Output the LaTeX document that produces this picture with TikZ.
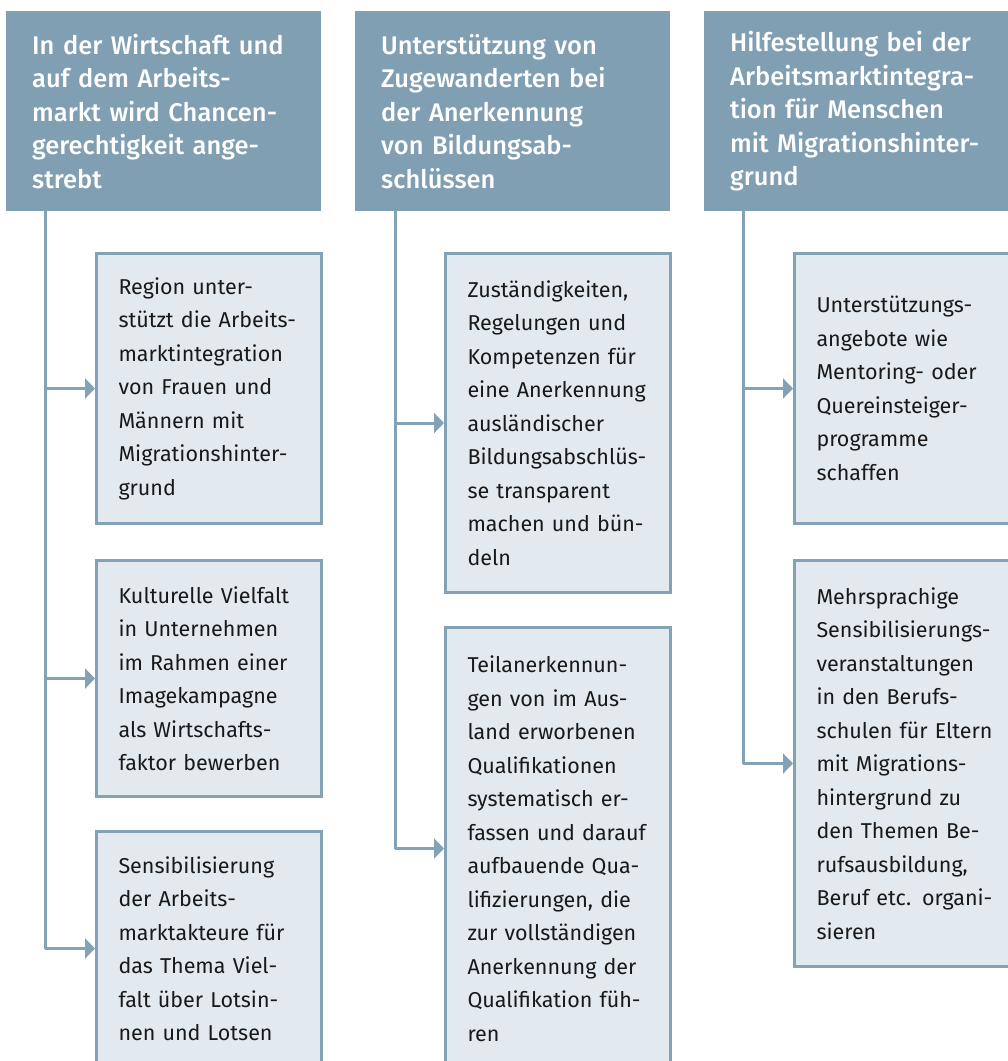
\documentclass[tikz,border=0pt]{standalone}
\usepackage{fontspec}
\setmainfont{Fira Sans}
\newfontfamily\headfont{Fira Sans Medium}
\usepackage{tikz}
\usetikzlibrary{arrows.meta}

\definecolor{headblue}{RGB}{128,159,178}
\definecolor{boxblue}{RGB}{227,234,239}
\definecolor{linkblue}{RGB}{132,162,181}

\tikzset{
  head/.style={rectangle, fill=headblue, text=white, anchor=north west,
    minimum width=315pt, minimum height=200pt, inner xsep=26pt, inner ysep=0pt,
    text width=263pt, align=left, font=\headfont\fontsize{25.5}{33.5}\selectfont},
  item/.style={rectangle, draw=linkblue, line width=3pt, fill=boxblue,
    text=black!90, anchor=north west, minimum width=225pt, inner xsep=22pt,
    text width=181pt, align=left, font=\fontsize{21.5}{33.5}\selectfont},
  link/.style={draw=linkblue, line width=3pt},
  arr/.style={link, -{Triangle[length=10pt,width=20pt]}}
}

\begin{document}
\begin{tikzpicture}[x=1pt, y=-1pt]
      \useasboundingbox (0,0) rectangle (1008,1061);
      \clip (0,0) rectangle (1008,1061);

      % headers
      \node[head] (h1) at (6,11){In der Wirtschaft und\\auf dem Arbeits-\\markt wird Chancen-\\gerechtigkeit ange-\\strebt};
      \node[head] (h2) at (355,11){Unterst\"utzung von\\Zugewanderten bei\\der Anerkennung\\von Bildungsab-\\schl\"ussen};
      \node[head] (h3) at (704,11){Hilfestellung bei der\\Arbeitsmarktintegra-\\tion f\"ur Menschen\\mit Migrationshinter-\\grund};

      % first column
      \node[item, minimum height=270pt] (b11) at (95,252){Region unter-\\st\"utzt die Arbeits-\\marktintegration\\von Frauen und\\M\"annern mit\\Migrationshinter-\\grund};
      \node[item, minimum height=236pt] (b12) at (95,559){Kulturelle Vielfalt\\in Unternehmen\\im Rahmen einer\\Imagekampagne\\als Wirtschafts-\\faktor bewerben};
      \node[item, minimum height=234pt] (b13) at (95,830){Sensibilisierung\\der Arbeits-\\marktakteure f\"ur\\das Thema Viel-\\falt \"uber Lotsin-\\nen und Lotsen};

      % second column
      \node[item, minimum height=339pt] (b21) at (444,252){Zust\"andigkeiten,\\Regelungen und\\Kompetenzen f\"ur\\eine Anerkennung\\ausl\"andischer\\Bildungsabschl\"us-\\se transparent\\machen und b\"un-\\deln};
      \node[item, minimum height=442pt] (b22) at (444,626){Teilanerkennun-\\gen von im Aus-\\land erworbenen\\Qualifikationen\\systematisch er-\\fassen und darauf\\aufbauende Qua-\\lifizierungen, die\\zur vollst\"andigen\\Anerkennung der\\Qualifikation f\"uh-\\ren};

      % third column
      \node[item, minimum height=270pt] (b31) at (793,252){Unterst\"utzungs-\\angebote wie\\Mentoring- oder\\Quereinsteiger-\\programme\\schaffen};
      \node[item, minimum height=406pt] (b32) at (793,559){Mehrsprachige\\Sensibilisierungs-\\veranstaltungen\\in den Berufs-\\schulen f\"ur Eltern\\mit Migrations-\\hintergrund zu\\den Themen Be-\\rufsausbildung,\\Beruf etc. organi-\\sieren};

      \coordinate (t1) at ([xshift=39pt]h1.south west);
      \coordinate (t2) at ([xshift=40pt]h2.south west);
      \coordinate (t3) at ([xshift=39pt]h3.south west);

      \draw[link] (t1) -- (t1 |- b13.west);
      \draw[arr] (t1 |- b11.west) -- (b11.west);
      \draw[arr] (t1 |- b12.west) -- (b12.west);
      \draw[arr] (t1 |- b13.west) -- (b13.west);

      \draw[link] (t2) -- (t2 |- b22.west);
      \draw[arr] (t2 |- b21.west) -- (b21.west);
      \draw[arr] (t2 |- b22.west) -- (b22.west);

      \draw[link] (t3) -- (t3 |- b32.west);
      \draw[arr] (t3 |- b31.west) -- (b31.west);
      \draw[arr] (t3 |- b32.west) -- (b32.west);
    \end{tikzpicture}
\end{document}
